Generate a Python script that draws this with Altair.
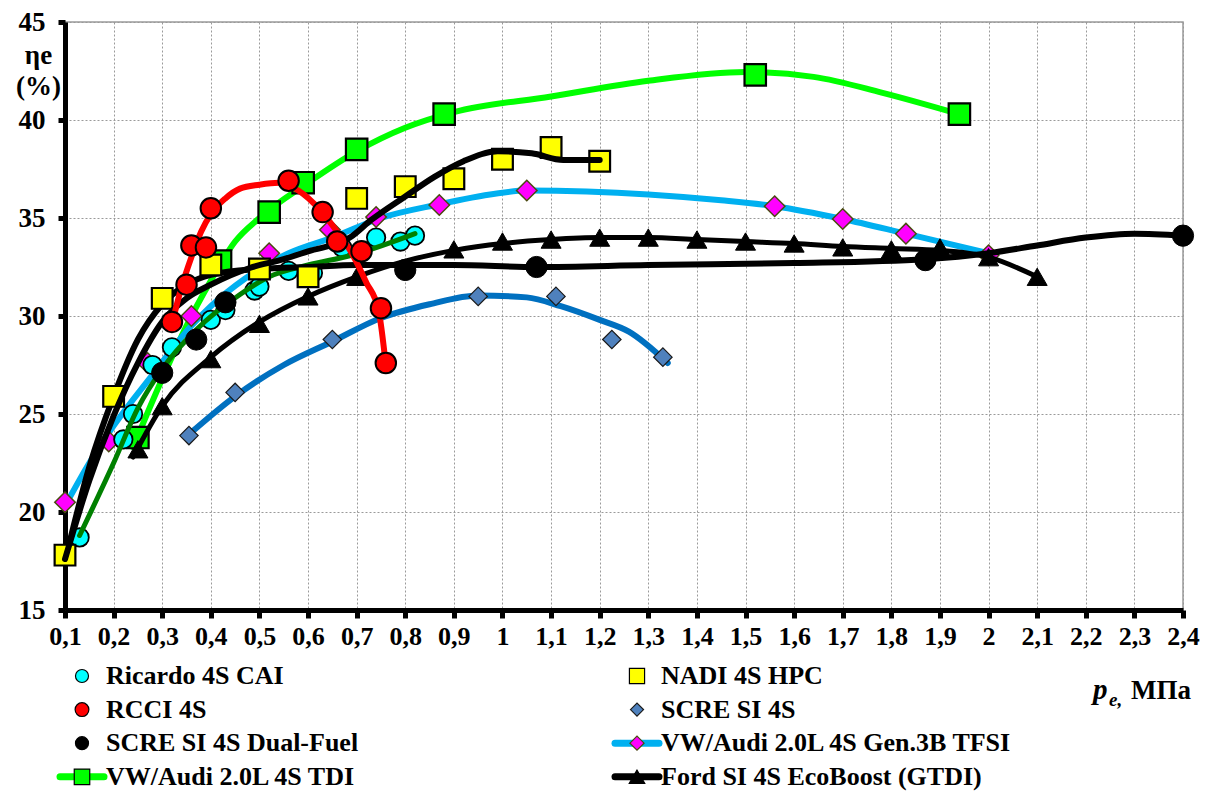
import altair as alt
import pandas as pd
import json

FONT = "Liberation Serif"

# ---------------- data ----------------
x_ticks = [0.1, 0.2, 0.3, 0.4, 0.5, 0.6, 0.7, 0.8, 0.9, 1.0, 1.1, 1.2,
           1.3, 1.4, 1.5, 1.6, 1.7, 1.8, 1.9, 2.0, 2.1, 2.2, 2.3, 2.4]
x_tick_labels = ["0,1", "0,2", "0,3", "0,4", "0,5", "0,6", "0,7", "0,8", "0,9", "1",
                 "1,1", "1,2", "1,3", "1,4", "1,5", "1,6", "1,7", "1,8", "1,9", "2",
                 "2,1", "2,2", "2,3", "2,4"]
y_ticks = [15, 20, 25, 30, 35, 40, 45]

# Ricardo 4S CAI (points) + its trend line
ricardo_x = [0.13, 0.22, 0.24, 0.28, 0.32, 0.40, 0.43, 0.49, 0.50, 0.56, 0.61, 0.67, 0.74, 0.79, 0.82]
ricardo_y = [18.7, 23.7, 25.0, 27.5, 28.4, 29.8, 30.3, 31.3, 31.5, 32.3, 32.2, 33.5, 34.0, 33.8, 34.1]
ricardo_line_x = [0.13, 0.20, 0.25, 0.30, 0.37, 0.46, 0.52, 0.60, 0.69, 0.82]
ricardo_line_y = [18.8, 22.5, 25.3, 27.3, 29.3, 31.1, 32.0, 32.6, 33.1, 34.2]

# RCCI 4S
rcci_x = [0.32, 0.35, 0.36, 0.39, 0.40, 0.56, 0.63, 0.66, 0.71, 0.75, 0.76]
rcci_y = [29.7, 31.6, 33.6, 33.5, 35.5, 36.9, 35.3, 33.8, 33.3, 30.4, 27.6]
rcci_line_x = [0.32, 0.34, 0.36, 0.38, 0.40, 0.43, 0.46, 0.50, 0.54, 0.58, 0.625, 0.66, 0.69, 0.72, 0.745, 0.76]
rcci_line_y = [29.6, 31.5, 33.0, 34.3, 35.2, 36.0, 36.5, 36.7, 36.8, 36.4, 35.4, 34.3, 33.2, 31.7, 30.3, 27.5]

# NADI 4S HPC
nadi_x = [0.10, 0.20, 0.30, 0.40, 0.50, 0.60, 0.70, 0.80, 0.90, 1.00, 1.10, 1.20]
nadi_y = [17.8, 25.9, 30.9, 32.6, 32.4, 32.0, 36.0, 36.6, 37.0, 38.0, 38.6, 37.9]
nadi_line_x = [0.10, 0.15, 0.20, 0.25, 0.30, 0.35, 0.40, 0.48, 0.55, 0.60, 0.686, 0.73, 0.80, 0.86, 0.92, 0.99, 1.06, 1.125, 1.20]
nadi_line_y = [17.6, 21.6, 24.9, 27.6, 29.7, 30.9, 31.6, 32.45, 32.9, 33.3, 34.0, 34.9, 36.1, 37.1, 37.9, 38.4, 38.3, 37.96, 37.96]

# SCRE SI 4S
scre_x = [0.355, 0.45, 0.65, 0.95, 1.11, 1.225, 1.33]
scre_y = [23.9, 26.1, 28.8, 31.0, 31.0, 28.8, 27.9]
scre_line_x = [0.357, 0.45, 0.55, 0.65, 0.75, 0.85, 0.95, 1.05, 1.12, 1.20, 1.26, 1.34]
scre_line_y = [24.0, 25.9, 27.5, 28.7, 29.9, 30.6, 31.05, 30.95, 30.5, 29.8, 29.2, 27.6]

# SCRE SI 4S Dual-Fuel
dual_x = [0.30, 0.37, 0.43, 0.80, 1.07, 1.87, 2.40]
dual_y = [27.1, 28.8, 30.7, 32.35, 32.5, 32.85, 34.1]
dual_line_x = [0.10, 0.15, 0.20, 0.25, 0.30, 0.35, 0.40, 0.50, 0.60, 0.70, 0.80, 0.90, 1.07, 1.30, 1.60, 1.87, 2.00, 2.10, 2.20, 2.30, 2.40]
dual_line_y = [17.5, 22.3, 25.9, 28.8, 30.6, 31.6, 32.1, 32.4, 32.5, 32.6, 32.6, 32.6, 32.5, 32.6, 32.7, 32.9, 33.2, 33.6, 34.0, 34.2, 34.1]

# VW/Audi 2.0L 4S Gen.3B TFSI
tfsi_x = [0.10, 0.19, 0.27, 0.36, 0.52, 0.645, 0.74, 0.87, 1.05, 1.56, 1.70, 1.83, 2.00]
tfsi_y = [20.5, 23.6, 27.6, 30.0, 33.2, 34.4, 35.05, 35.66, 36.4, 35.6, 34.95, 34.2, 33.1]
tfsi_line_x = [0.10, 0.15, 0.20, 0.28, 0.36, 0.40, 0.47, 0.56, 0.65, 0.75, 0.87, 0.95, 1.05, 1.30, 1.45, 1.56, 1.70, 1.83, 2.00]
tfsi_line_y = [20.3, 22.5, 24.4, 27.0, 29.5, 30.5, 31.9, 33.2, 34.0, 35.0, 35.7, 36.1, 36.4, 36.2, 35.9, 35.6, 34.95, 34.2, 33.2]

# VW/Audi 2.0L 4S TDI
tdi_x = [0.25, 0.42, 0.52, 0.59, 0.70, 0.88, 1.52, 1.94]
tdi_y = [23.8, 32.8, 35.3, 36.8, 38.5, 40.3, 42.3, 40.3]
tdi_line_x = [0.24, 0.30, 0.35, 0.40, 0.45, 0.50, 0.60, 0.70, 0.80, 0.90, 1.10, 1.30, 1.50, 1.64, 1.78, 1.94]
tdi_line_y = [23.3, 26.8, 29.5, 31.8, 33.8, 35.0, 36.8, 38.4, 39.6, 40.4, 41.2, 42.0, 42.45, 42.2, 41.4, 40.3]

# Ford SI 4S EcoBoost (GTDI)
ford_x = [0.25, 0.30, 0.40, 0.50, 0.60, 0.70, 0.90, 1.00, 1.10, 1.20, 1.30, 1.40, 1.50, 1.60, 1.70, 1.80, 1.90, 2.00, 2.10]
ford_y = [23.2, 25.4, 27.8, 29.6, 31.0, 32.0, 33.4, 33.8, 33.9, 34.0, 34.0, 33.9, 33.8, 33.7, 33.5, 33.4, 33.5, 33.0, 32.0]
ford_line_x = [0.24, 0.30, 0.40, 0.50, 0.60, 0.70, 0.80, 0.90, 1.00, 1.10, 1.20, 1.30, 1.40, 1.50, 1.60, 1.70, 1.80, 1.90, 2.00, 2.10]
ford_line_y = [22.8, 25.4, 27.9, 29.7, 31.0, 32.0, 32.8, 33.35, 33.7, 33.9, 34.0, 34.0, 33.9, 33.8, 33.7, 33.55, 33.45, 33.35, 33.0, 32.0]

legend_labels = ["Ricardo 4S CAI", "NADI 4S HPC", "RCCI 4S", "SCRE SI 4S",
                 "SCRE SI 4S Dual-Fuel", "VW/Audi 2.0L 4S Gen.3B TFSI",
                 "VW/Audi 2.0L 4S TDI", "Ford SI 4S EcoBoost (GTDI)"]

# ---------------- chart ----------------
W, H = 1118, 588

label_expr = "%s[round(datum.value*10)-1]" % json.dumps(x_tick_labels)

x_enc = alt.X("x:Q",
              scale=alt.Scale(domain=[0.1, 2.4], nice=False, zero=False),
              axis=alt.Axis(values=x_ticks, labelExpr=label_expr, title=None,
                            grid=True, gridDash=[2, 2], gridColor="#9a9a9a", gridWidth=1,
                            domainColor="black", domainWidth=5,
                            tickColor="black", tickWidth=5, tickSize=8,
                            labelFont=FONT, labelFontSize=26, labelFontWeight="bold",
                            labelColor="black", labelPadding=5,
                            labelOverlap=False, labelFlush=False, labelBound=False))
y_enc = alt.Y("y:Q",
              scale=alt.Scale(domain=[15, 45], nice=False, zero=False),
              axis=alt.Axis(values=y_ticks, format="d", title=["ηe", "(%)"],
                            titleAngle=0, titleX=-27, titleY=20, titleAlign="center",
                            titleBaseline="top", titleFont=FONT, titleFontSize=27,
                            titleFontWeight="bold", titleColor="black", titleLineHeight=31,
                            grid=True, gridDash=[2, 2], gridColor="#9a9a9a", gridWidth=1,
                            domainColor="black", domainWidth=5,
                            tickColor="black", tickWidth=5, tickSize=7,
                            labelFont=FONT, labelFontSize=27, labelFontWeight="bold",
                            labelColor="black", labelPadding=13))


def line(xs, ys, color, width):
    df = pd.DataFrame({"x": xs, "y": ys})
    return alt.Chart(df).mark_line(color=color, strokeWidth=width, interpolate="monotone",
                                   strokeCap="round", strokeJoin="round").encode(x=x_enc, y=y_enc)


def pts(xs, ys, shape, fill, stroke, size, sw=1.8):
    df = pd.DataFrame({"x": xs, "y": ys})
    return alt.Chart(df).mark_point(shape=shape, filled=True, fill=fill, stroke=stroke,
                                    strokeWidth=sw, size=size, opacity=1,
                                    fillOpacity=1, strokeOpacity=1).encode(x=x_enc, y=y_enc)


layers = [
    line(scre_line_x, scre_line_y, "#0070C0", 6),
    pts(scre_x, scre_y, "diamond", "#4F81BD", "#1a1a1a", 340, 1.2),
    line(tdi_line_x, tdi_line_y, "#00FF00", 6),
    pts(tdi_x, tdi_y, "square", "#00FF00", "black", 460, 2.2),
    line(tfsi_line_x, tfsi_line_y, "#00B0F0", 6),
    pts(tfsi_x, tfsi_y, "diamond", "#FF00FF", "#4a4a10", 420, 1.5),
    pts(ricardo_x, ricardo_y, "circle", "#00FFFF", "black", 340),
    line(ricardo_line_x, ricardo_line_y, "#008000", 5),
    line(ford_line_x, ford_line_y, "black", 5),
    pts(ford_x, ford_y, "triangle-up", "black", "black", 400, 1),
    line(dual_line_x, dual_line_y, "black", 6),
    pts(dual_x, dual_y, "circle", "black", "black", 450, 1),
    pts(nadi_x, nadi_y, "square", "#FFFF00", "black", 430, 2.2),
    line(nadi_line_x, nadi_line_y, "black", 6),
    line(rcci_line_x, rcci_line_y, "#FF0000", 6),
    pts(rcci_x, rcci_y, "circle", "#FF0000", "black", 420, 2),
]

# ---------------- legend (pixel positions in plot coordinates) ----------------
leg_shape = ["circle", "square", "circle", "diamond", "circle", "diamond", "square", "triangle-up"]
leg_fill = ["#00FFFF", "#FFFF00", "#FF0000", "#4F81BD", "black", "#FF00FF", "#00FF00", "black"]
leg_stroke = ["black", "black", "black", "#1a1a1a", "black", "#4a4a10", "black", "black"]
leg_line = ["", "", "", "", "", "#00B0F0", "#00FF00", "black"]
leg_size = [170, 230, 190, 170, 170, 200, 240, 240]

rows = []
for i, lab in enumerate(legend_labels):
    col, row = i % 2, i // 2
    sx = 17 if col == 0 else 572
    py = 654 + row * 33.6
    rows.append({"label": lab, "sx": sx, "sx1": sx - 22, "sx2": sx + 22,
                 "tx": sx + 24, "py": py, "shape": leg_shape[i], "fill": leg_fill[i],
                 "stroke": leg_stroke[i], "lc": leg_line[i], "size": leg_size[i]})
leg = pd.DataFrame(rows)
leg_lines = leg[leg["lc"] != ""]

legend_line_layer = alt.Chart(leg_lines).mark_rule(strokeWidth=7, strokeCap="round").encode(
    x=alt.X("sx1:Q", scale=None), x2="sx2:Q", y=alt.Y("py:Q", scale=None),
    color=alt.Color("lc:N", scale=None))
legend_sym_layer = alt.Chart(leg).mark_point(filled=True, opacity=1, strokeWidth=1.2).encode(
    x=alt.X("sx:Q", scale=None), y=alt.Y("py:Q", scale=None),
    shape=alt.Shape("shape:N", scale=None), fill=alt.Fill("fill:N", scale=None),
    stroke=alt.Stroke("stroke:N", scale=None), size=alt.Size("size:Q", scale=None))
legend_text_layer = alt.Chart(leg).mark_text(align="left", baseline="middle", font=FONT,
                                             fontSize=26, fontWeight="bold", color="black").encode(
    x=alt.X("tx:Q", scale=None), y=alt.Y("py:Q", scale=None), text="label:N")

# x-axis title "p_e, МПа"
title_df = pd.DataFrame({"t": ["p", "e,", "МПа"], "tx": [1028, 1044, 1066], "ty": [677, 684, 677],
                         "fs": [29, 19, 27], "st": ["italic", "italic", "normal"]})
title_layers = []
for _, r in title_df.iterrows():
    sub = title_df[title_df["t"] == r["t"]]
    title_layers.append(alt.Chart(sub).mark_text(align="left", baseline="alphabetic", font=FONT,
                                                 fontSize=int(r["fs"]), fontWeight="bold",
                                                 fontStyle=r["st"], color="black").encode(
        x=alt.X("tx:Q", scale=None), y=alt.Y("ty:Q", scale=None), text="t:N"))

chart = alt.layer(*layers, legend_line_layer, legend_sym_layer, legend_text_layer,
                  *title_layers).properties(
    width=W, height=H,
    autosize=alt.AutoSizeParams(type="none"),
    padding={"left": 65, "top": 22, "right": 29, "bottom": 181},
    background="white",
).configure_view(stroke="#9a9a9a", strokeWidth=1.5)

chart.save("out.html", embed_options={"renderer": "svg", "actions": False})
